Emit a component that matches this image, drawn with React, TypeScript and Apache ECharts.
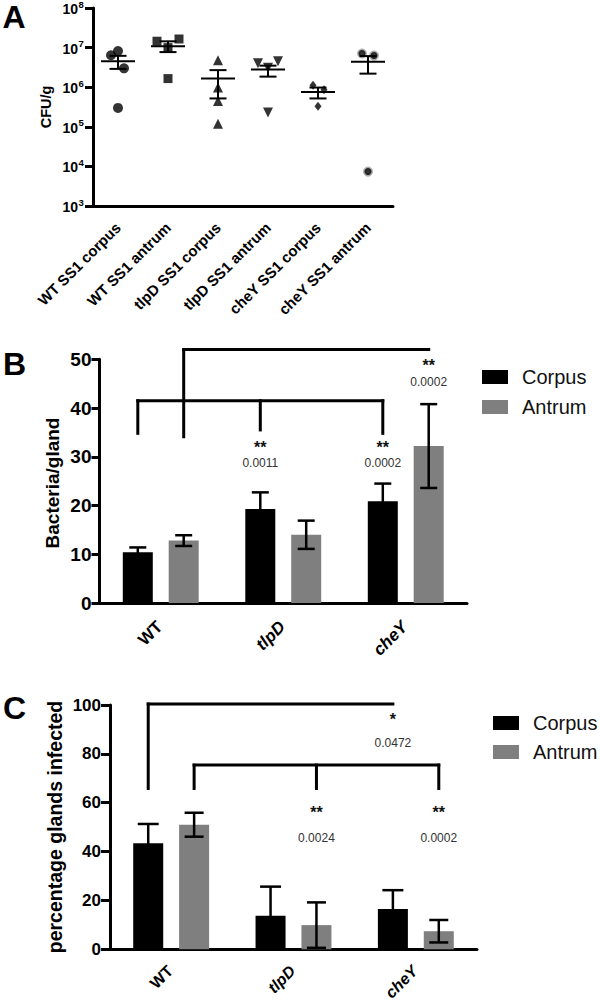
import React, { useEffect, useRef } from 'react';
import * as echarts from 'echarts';

// ---------- Panel A data (CFU/g, log scale) ----------
const groupsA = ['WT SS1 corpus', 'WT SS1 antrum', 'tlpD SS1 corpus', 'tlpD SS1 antrum', 'cheY SS1 corpus', 'cheY SS1 antrum'];
const cfuTicks = [1e3, 1e4, 1e5, 1e6, 1e7, 1e8];
const wtCorpusCFU = [8.2e6, 6.4e6, 3.0e6, 3.0e5];
const wtAntrumCFU = [1.45e7, 1.0e7, 1.65e7, 1.65e6];
const tlpdCorpusCFU = [4.8e6, 9.8e5, 4.5e5, 1.2e5];
const tlpdAntrumCFU = [4.0e6, 3.1e6, 4.5e6, 2.3e5];
const cheyCorpusCFU = [1.12e6, 8.6e5, 3.3e5];
const cheyAntrumCFU = [7.1e6, 6.3e6, 7.4e3];
const meanCFU = [4.5e6, 1.08e7, 1.65e6, 2.8e6, 7.6e5, 4.4e6];
const semHighCFU = [6.2e6, 1.44e7, 2.7e6, 3.5e6, 9.8e5, 6.1e6];
const semLowCFU = [2.9e6, 7.7e6, 5.2e5, 1.85e6, 5.2e5, 2.2e6];

// ---------- Panel B data (bacteria / gland) ----------
const genotypes = ['WT', 'tlpD', 'cheY'];
const bacteriaCorpus = [10.4, 19.3, 20.9];
const bacteriaCorpusSem = [1.0, 3.4, 3.6];
const bacteriaAntrum = [12.8, 14.0, 32.2];
const bacteriaAntrumSem = [1.1, 2.9, 8.6];

// ---------- Panel C data (% glands infected) ----------
const infectedCorpus = [43.4, 13.75, 16.5];
const infectedCorpusSem = [7.9, 11.9, 7.7];
const infectedAntrum = [51.0, 9.9, 7.4];
const infectedAntrumSem = [4.9, 9.3, 4.6];

// significance annotations: [category, series ('c' corpus / 'a' antrum), stars, p-value]
const sigB = [
  [1, 'c', '**', '0.0011'],
  [2, 'c', '**', '0.0002'],
  [2, 'a', '**', '0.0002'],
];
const sigC = [
  [2, 'c', '*', '0.0472'],
  [1, 'a', '**', '0.0024'],
  [2, 'a', '**', '0.0002'],
];

// ---------- layout / style (not data) ----------
const FONT = "'Liberation Sans', Arial, Helvetica, sans-serif";
const BAR_W = 30;
const BAR_GAP = 0.53;
const OFF = (BAR_W + BAR_W * BAR_GAP) / 2;
const BLACK = '#000000';
const GREY = '#7f7f7f';

// annotation levels (in each axis' value units)
const bracketsB = [
  { level: 41.5, from: [0, 'c'], to: [2, 'c'], legs: [[0, 'c', 34.5], [1, 'c', 35.2], [2, 'c', 34.5]] },
  { level: 52.0, from: [0, 'a'], to: [2, 'a'], legs: [[0, 'a', 33.8]] },
];
const sigLevelsB = [[31.9, 28.7], [31.9, 28.7], [48.7, 45.4]];
const bracketsC = [
  { level: 100.4, from: [0, 'c'], to: [2, 'c'], legs: [[0, 'c', 65.2]] },
  { level: 75.4, from: [0, 'a'], to: [2, 'a'], legs: [[0, 'a', 65.2], [1, 'a', 65.2], [2, 'a', 65.2]] },
];
const sigLevelsC = [[94.0, 84.3], [56.0, 45.4], [56.0, 45.4]];

const jitterA = [
  [0, -7, 6, 0],
  [-11, 0, 11, 0],
  [0, 0, 0, 0],
  [-10, 0, 10, 0],
  [-5, 6, 0],
  [-6, 6, 0],
];

const sideOff = (s: string) => (s === 'c' ? -OFF : OFF);

function bracketRender(brackets: any[]) {
  return (params: any, api: any) => {
    const b = brackets[params.dataIndex];
    const pt = (cat: number, side: string, v: number) => {
      const c = api.coord([cat, v]);
      return [c[0] + sideOff(side), c[1]];
    };
    const st = { stroke: '#000', lineWidth: 3 };
    const a = pt(b.from[0], b.from[1], b.level);
    const z = pt(b.to[0], b.to[1], b.level);
    const children: any[] = [
      { type: 'line', shape: { x1: a[0] - 1.5, y1: a[1], x2: z[0] + 1.5, y2: z[1] }, style: st },
    ];
    b.legs.forEach((l: any) => {
      const t = pt(l[0], l[1], b.level);
      const bt = pt(l[0], l[1], l[2]);
      children.push({ type: 'line', shape: { x1: t[0], y1: t[1] - 1.5, x2: bt[0], y2: bt[1] }, style: st });
    });
    return { type: 'group', children };
  };
}

function sigRender(sig: any[], levels: number[][], starSize: number, pSize: number) {
  return (params: any, api: any) => {
    const s = sig[params.dataIndex];
    const lv = levels[params.dataIndex];
    const p1 = api.coord([s[0], lv[0]]);
    const p2 = api.coord([s[0], lv[1]]);
    const x = p1[0] + sideOff(s[1]);
    return {
      type: 'group',
      children: [
        {
          type: 'text', x, y: p1[1],
          style: { text: s[2], fontSize: starSize, fontFamily: FONT, fontWeight: 'bold', fill: '#111', align: 'center', verticalAlign: 'middle' },
        },
        {
          type: 'text', x, y: p2[1],
          style: { text: s[3], fontSize: pSize, fontFamily: FONT, fill: '#333', align: 'center', verticalAlign: 'middle' },
        },
      ],
    };
  };
}

function errorRender(offset: number, capW: number) {
  return (params: any, api: any) => {
    const cat = api.value(0);
    const m = api.value(1);
    const s = api.value(2);
    const top = api.coord([cat, m + s]);
    const bot = api.coord([cat, Math.max(m - s, 0)]);
    const x = top[0] + offset;
    const st = { stroke: '#000', lineWidth: 2.5 };
    return {
      type: 'group',
      children: [
        { type: 'line', shape: { x1: x, y1: top[1], x2: x, y2: bot[1] }, style: st },
        { type: 'line', shape: { x1: x - capW / 2, y1: top[1], x2: x + capW / 2, y2: top[1] }, style: st },
        { type: 'line', shape: { x1: x - capW / 2, y1: bot[1], x2: x + capW / 2, y2: bot[1] }, style: st },
      ],
    };
  };
}

function meanSemRender(params: any, api: any) {
  const cat = api.value(0);
  const m = api.coord([cat, api.value(1)]);
  const lo = api.coord([cat, api.value(2)]);
  const hi = api.coord([cat, api.value(3)]);
  const x = m[0];
  const st = { stroke: '#000', lineWidth: 2 };
  const cap = 8.5;
  return {
    type: 'group',
    children: [
      { type: 'line', shape: { x1: x - 17, y1: m[1], x2: x + 17, y2: m[1] }, style: st },
      { type: 'line', shape: { x1: x, y1: hi[1], x2: x, y2: lo[1] }, style: st },
      { type: 'line', shape: { x1: x - cap, y1: hi[1], x2: x + cap, y2: hi[1] }, style: st },
      { type: 'line', shape: { x1: x - cap, y1: lo[1], x2: x + cap, y2: lo[1] }, style: st },
    ],
  };
}

// log-axis tick labels "10" with superscript exponent
function logTickRender(params: any, api: any) {
  const v = api.value(1);
  const p = api.coord([0, v]);
  const axisX = params.coordSys.x;
  const exp = String(Math.round(Math.log10(v)));
  return {
    type: 'group',
    children: [
      {
        type: 'text', x: axisX - 15, y: p[1] + 1,
        style: { text: '10', fontSize: 14, fontWeight: 'bold', fontFamily: FONT, fill: '#000', align: 'right', verticalAlign: 'middle' },
      },
      {
        type: 'text', x: axisX - 14.5, y: p[1] - 4,
        style: { text: exp, fontSize: 9.5, fontWeight: 'bold', fontFamily: FONT, fill: '#000', align: 'left', verticalAlign: 'middle' },
      },
    ],
  };
}

// rotated category labels for panels B and C
function catLabelRender(size: number, dy: number) {
  return (params: any, api: any) => {
    const i = api.value(0);
    const p = api.coord([i, 0]);
    const name = genotypes[i];
    return {
      type: 'text',
      x: p[0] - 1,
      y: p[1] + dy,
      rotation: Math.PI / 4,
      style: {
        text: name, fontSize: size, fontWeight: 'bold', fontStyle: name === 'WT' ? 'normal' : 'italic',
        fontFamily: FONT, fill: '#000', align: 'right', verticalAlign: 'middle',
      },
    };
  };
}

const axisLineStyle = { lineStyle: { color: '#000', width: 3 } };

export default function App() {
  const ref = useRef<HTMLDivElement>(null);
  useEffect(() => {
    if (!ref.current) return;
    const chart = echarts.init(ref.current, undefined, { renderer: 'svg' });

    const scatterGroups = [wtCorpusCFU, wtAntrumCFU, tlpdCorpusCFU, tlpdAntrumCFU, cheyCorpusCFU, cheyAntrumCFU];
    const symbols: any[] = [
      { symbol: 'circle', symbolSize: 10, symbolRotate: 0 },
      { symbol: 'rect', symbolSize: 9, symbolRotate: 0 },
      { symbol: 'triangle', symbolSize: 10, symbolRotate: 0 },
      { symbol: 'triangle', symbolSize: 10, symbolRotate: 180 },
      { symbol: 'diamond', symbolSize: [7, 9], symbolRotate: 0 },
      { symbol: 'circle', symbolSize: 7, symbolRotate: 0 },
    ];

    const scatterSeries = scatterGroups.map((vals, gi) => ({
      type: 'scatter',
      name: groupsA[gi],
      xAxisIndex: 0,
      yAxisIndex: 0,
      symbol: symbols[gi].symbol,
      symbolSize: symbols[gi].symbolSize,
      symbolRotate: symbols[gi].symbolRotate,
      itemStyle:
        gi === 5
          ? { color: '#000', borderColor: 'rgba(0,0,0,0.4)', borderWidth: 3 }
          : { color: '#000' },
      data: vals.map((v, i) => ({ value: [gi, v], symbolOffset: [jitterA[gi][i], 0] })),
      z: 5,
    }));

    const catAxisB = (gridIndex: number) => ({
      type: 'category',
      gridIndex,
      data: genotypes,
      axisLine: axisLineStyle,
      axisTick: { alignWithLabel: true, length: 8, lineStyle: { width: 3, color: '#000' } },
      axisLabel: { show: false },
    });

    const option: any = {
      animation: false,
      backgroundColor: '#ffffff',
      textStyle: { fontFamily: FONT },
      grid: [
        { left: 93, top: 8, width: 300, height: 198 },
        { left: 99.5, top: 359.3, width: 367.5, height: 243.7 },
        { left: 110, top: 705, width: 367, height: 244.3 },
      ],
      legend: [
        {
          data: ['Corpus', 'Antrum'],
          orient: 'vertical',
          left: 482,
          top: 367,
          padding: 0,
          itemWidth: 26,
          itemHeight: 14,
          itemGap: 10,
          icon: 'rect',
          selectedMode: false,
          textStyle: { fontSize: 20, fontFamily: FONT, color: '#111', padding: [0, 0, 0, 9] },
        },
        {
          data: ['Corpus', 'Antrum'],
          orient: 'vertical',
          left: 493,
          top: 713,
          padding: 0,
          itemWidth: 26,
          itemHeight: 14,
          itemGap: 9,
          icon: 'rect',
          selectedMode: false,
          textStyle: { fontSize: 20, fontFamily: FONT, color: '#111', padding: [0, 0, 0, 9] },
        },
      ],
      xAxis: [
        {
          type: 'category',
          gridIndex: 0,
          data: groupsA,
          axisLine: axisLineStyle,
          axisTick: { alignWithLabel: true, length: 7, lineStyle: { width: 3, color: '#000' } },
          axisLabel: { rotate: 45, margin: 19, fontSize: 15, fontWeight: 'bold', color: '#000', fontFamily: FONT, interval: 0 },
        },
        catAxisB(1),
        catAxisB(2),
      ],
      yAxis: [
        {
          type: 'log',
          gridIndex: 0,
          logBase: 10,
          min: 1e3,
          max: 1e8,
          splitLine: { show: false },
          axisLine: { show: true, ...axisLineStyle },
          axisTick: { show: true, length: 8, lineStyle: { width: 3, color: '#000' } },
          minorTick: { show: false },
          axisLabel: { show: false },
        },
        {
          type: 'value',
          gridIndex: 1,
          min: 0,
          max: 50,
          interval: 10,
          splitLine: { show: false },
          axisLine: { show: true, ...axisLineStyle },
          axisTick: { show: true, length: 8, lineStyle: { width: 3, color: '#000' } },
          axisLabel: { margin: 8, fontSize: 19, fontWeight: 'bold', color: '#000', fontFamily: FONT },
        },
        {
          type: 'value',
          gridIndex: 2,
          min: 0,
          max: 100,
          interval: 20,
          splitLine: { show: false },
          axisLine: { show: true, ...axisLineStyle },
          axisTick: { show: true, length: 9, lineStyle: { width: 3, color: '#000' } },
          axisLabel: { margin: 9, fontSize: 17, fontWeight: 'bold', color: '#000', fontFamily: FONT },
        },
      ],
      series: [
        {
          type: 'custom', name: 'log ticks', xAxisIndex: 0, yAxisIndex: 0, clip: false, silent: true,
          renderItem: logTickRender,
          data: cfuTicks.map((t) => [0, t]),
        },
        {
          type: 'custom',
          name: 'mean ± SEM',
          xAxisIndex: 0,
          yAxisIndex: 0,
          renderItem: meanSemRender,
          clip: false,
          data: meanCFU.map((m, i) => [i, m, semLowCFU[i], semHighCFU[i]]),
          z: 4,
        },
        ...scatterSeries,
        // Panel B bars
        {
          type: 'bar', name: 'Corpus', xAxisIndex: 1, yAxisIndex: 1,
          barWidth: BAR_W, barGap: `${BAR_GAP * 100}%`,
          itemStyle: { color: BLACK }, data: bacteriaCorpus,
        },
        {
          type: 'bar', name: 'Antrum', xAxisIndex: 1, yAxisIndex: 1,
          barWidth: BAR_W, barGap: `${BAR_GAP * 100}%`,
          itemStyle: { color: GREY }, data: bacteriaAntrum,
        },
        {
          type: 'custom', name: 'Corpus SEM B', xAxisIndex: 1, yAxisIndex: 1, clip: false, z: 3,
          renderItem: errorRender(-OFF, 17),
          data: bacteriaCorpus.map((m, i) => [i, m, bacteriaCorpusSem[i]]),
        },
        {
          type: 'custom', name: 'Antrum SEM B', xAxisIndex: 1, yAxisIndex: 1, clip: false, z: 3,
          renderItem: errorRender(OFF, 17),
          data: bacteriaAntrum.map((m, i) => [i, m, bacteriaAntrumSem[i]]),
        },
        {
          type: 'custom', name: 'brackets B', xAxisIndex: 1, yAxisIndex: 1, clip: false, z: 3,
          renderItem: bracketRender(bracketsB),
          data: bracketsB.map((b) => [b.from[0], b.level]),
        },
        {
          type: 'custom', name: 'significance B', xAxisIndex: 1, yAxisIndex: 1, clip: false, z: 3,
          renderItem: sigRender(sigB, sigLevelsB, 16, 12),
          data: sigB.map((s, i) => [s[0], sigLevelsB[i][0]]),
        },
        {
          type: 'custom', name: 'genotype labels B', xAxisIndex: 1, yAxisIndex: 1, clip: false, silent: true,
          renderItem: catLabelRender(17, 21),
          data: genotypes.map((g, i) => [i, 0]),
        },
        // Panel C bars
        {
          type: 'bar', name: 'Corpus', xAxisIndex: 2, yAxisIndex: 2,
          barWidth: BAR_W, barGap: `${BAR_GAP * 100}%`,
          itemStyle: { color: BLACK }, data: infectedCorpus,
        },
        {
          type: 'bar', name: 'Antrum', xAxisIndex: 2, yAxisIndex: 2,
          barWidth: BAR_W, barGap: `${BAR_GAP * 100}%`,
          itemStyle: { color: GREY }, data: infectedAntrum,
        },
        {
          type: 'custom', name: 'Corpus SEM C', xAxisIndex: 2, yAxisIndex: 2, clip: false, z: 3,
          renderItem: errorRender(-OFF, 21),
          data: infectedCorpus.map((m, i) => [i, m, infectedCorpusSem[i]]),
        },
        {
          type: 'custom', name: 'Antrum SEM C', xAxisIndex: 2, yAxisIndex: 2, clip: false, z: 3,
          renderItem: errorRender(OFF, 19),
          data: infectedAntrum.map((m, i) => [i, m, infectedAntrumSem[i]]),
        },
        {
          type: 'custom', name: 'brackets C', xAxisIndex: 2, yAxisIndex: 2, clip: false, z: 3,
          renderItem: bracketRender(bracketsC),
          data: bracketsC.map((b) => [b.from[0], b.level]),
        },
        {
          type: 'custom', name: 'significance C', xAxisIndex: 2, yAxisIndex: 2, clip: false, z: 3,
          renderItem: sigRender(sigC, sigLevelsC, 16, 12),
          data: sigC.map((s, i) => [s[0], sigLevelsC[i][0]]),
        },
        {
          type: 'custom', name: 'genotype labels C', xAxisIndex: 2, yAxisIndex: 2, clip: false, silent: true,
          renderItem: catLabelRender(16, 19),
          data: genotypes.map((g, i) => [i, 0]),
        },
      ],
      graphic: [
        { type: 'text', x: 14, y: 17, style: { text: 'A', fontSize: 32, fontWeight: 'bold', fontFamily: FONT, fill: '#000', align: 'center', verticalAlign: 'middle' } },
        { type: 'text', x: 14.5, y: 364, style: { text: 'B', fontSize: 32, fontWeight: 'bold', fontFamily: FONT, fill: '#000', align: 'center', verticalAlign: 'middle' } },
        { type: 'text', x: 14.5, y: 708, style: { text: 'C', fontSize: 32, fontWeight: 'bold', fontFamily: FONT, fill: '#000', align: 'center', verticalAlign: 'middle' } },
        { type: 'text', x: 46, y: 107, rotation: Math.PI / 2, style: { text: 'CFU/g', fontSize: 14.5, fontWeight: 'bold', fontFamily: FONT, fill: '#000', align: 'center', verticalAlign: 'middle' } },
        { type: 'text', x: 52, y: 483, rotation: Math.PI / 2, style: { text: 'Bacteria/gland', fontSize: 19, fontWeight: 'bold', fontFamily: FONT, fill: '#000', align: 'center', verticalAlign: 'middle' } },
        { type: 'text', x: 54.5, y: 827, rotation: Math.PI / 2, style: { text: 'percentage glands infected', fontSize: 19.5, fontWeight: 'bold', fontFamily: FONT, fill: '#000', align: 'center', verticalAlign: 'middle' } },
      ],
    };

    chart.setOption(option);
    return () => chart.dispose();
  }, []);

  return (
    <div
      ref={ref}
      style={{ position: 'absolute', left: 0, top: 0, width: 600, height: 1001, background: '#fff' }}
    />
  );
}
